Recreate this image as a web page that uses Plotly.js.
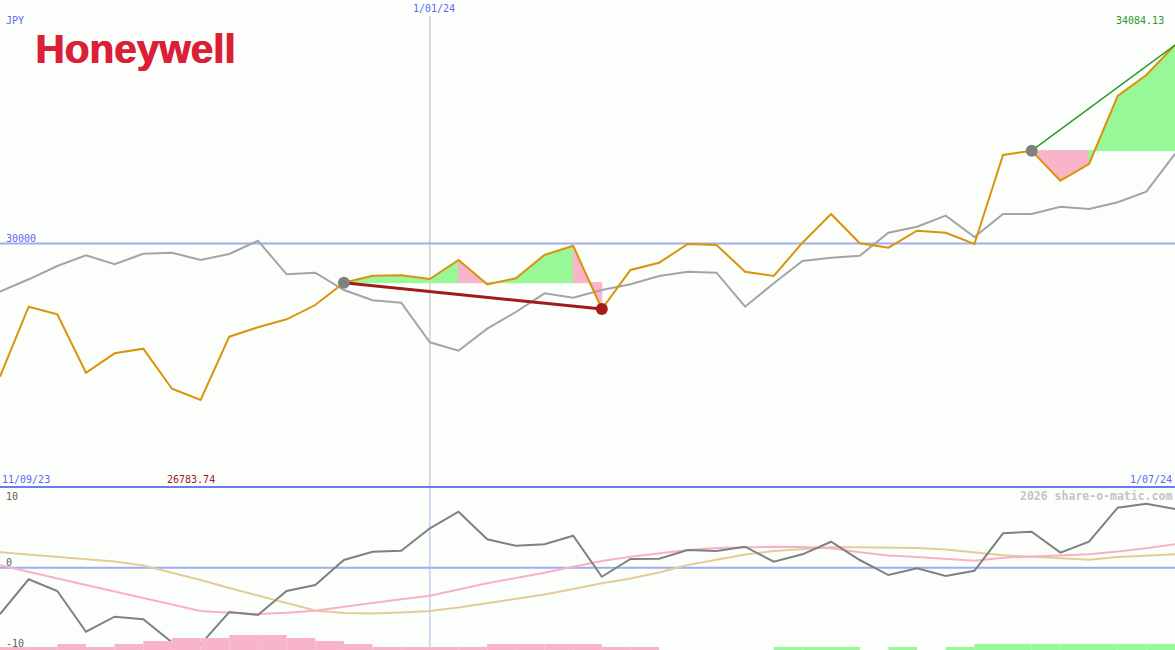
<!DOCTYPE html>
<html>
<head>
<meta charset="utf-8">
<script src="https://cdn.plot.ly/plotly-3.0.1.min.js"></script>
<style>
html,body{margin:0;padding:0;background:#fcfefc;}
#chart{width:1175px;height:650px;}
</style>
</head>
<body>
<div id="chart"></div>
<script>
// ---- data ----
const dates = ['2023-09-18','2023-09-25','2023-10-02','2023-10-09','2023-10-16','2023-10-23','2023-10-30',
  '2023-11-06','2023-11-13','2023-11-20','2023-11-27','2023-12-04','2023-12-11','2023-12-18','2023-12-25',
  '2024-01-01','2024-01-08','2024-01-15','2024-01-22','2024-01-29','2024-02-05','2024-02-12','2024-02-19',
  '2024-02-26','2024-03-04','2024-03-11','2024-03-18','2024-03-25','2024-04-01','2024-04-08','2024-04-15',
  '2024-04-22','2024-04-29','2024-05-06','2024-05-13','2024-05-20','2024-05-27','2024-06-03','2024-06-10',
  '2024-06-17','2024-06-24','2024-07-01'];
const price = [27263, 28702, 28546, 27345, 27744, 27839, 27016, 26783.74, 28086, 28279, 28443, 28737,
  29196, 29340, 29348, 29272, 29663, 29163, 29286, 29766, 29957, 28655, 29457, 29607, 29992, 29971,
  29422, 29334, 30019, 30609, 30006, 29916, 30265, 30224, 29992, 31822, 31910, 31293, 31637, 33035,
  33467, 34084.13];
const benchmark = [29011, 29266, 29539, 29759, 29574, 29792, 29813, 29663, 29786, 30060, 29369, 29402,
  29046, 28834, 28785, 27970, 27798, 28250, 28593, 28978, 28887, 29046, 29163, 29334, 29422, 29402,
  28702, 29184, 29642, 29710, 29751, 30224, 30348, 30574, 30136, 30609, 30609, 30759, 30712, 30849,
  31067, 31843];
const momentum = [-6.26, -1.57, -3.15, -8.65, -6.62, -6.97, -10.08, -10.35, -5.99, -6.39, -3.15, -2.34,
  1.04, 2.16, 2.30, 5.32, 7.57, 3.84, 2.97, 3.16, 4.32, -1.22, 1.18, 1.22, 2.39, 2.26, 2.84, 0.81,
  1.81, 3.51, 1.04, -0.99, -0.08, -1.12, -0.41, 4.65, 4.86, 2.03, 3.51, 8.11, 8.65, 7.93];
const fastAvg = [0.32, -0.54, -1.39, -2.34, -3.22, -4.09, -4.97, -5.85, -6.08, -6.26, -6.08, -5.81,
  -5.27, -4.73, -4.27, -3.78, -2.95, -2.11, -1.39, -0.68, 0.14, 0.91, 1.49, 1.92, 2.39, 2.66, 2.80,
  2.84, 2.80, 2.62, 2.08, 1.65, 1.45, 1.18, 0.95, 1.35, 1.51, 1.72, 1.81, 2.19, 2.62, 3.16];
const slowAvg = [2.08, 1.78, 1.49, 1.19, 0.84, 0.30, -0.65, -1.66, -2.74, -3.76, -4.84, -5.78, -6.12,
  -6.19, -6.05, -5.85, -5.38, -4.81, -4.23, -3.62, -2.88, -2.11, -1.46, -0.65, 0.36, 1.11, 1.78, 2.26,
  2.49, 2.76, 2.76, 2.76, 2.66, 2.46, 2.05, 1.68, 1.47, 1.31, 1.07, 1.45, 1.65, 1.81];
const signal = [-1,-1,-2,-1,-2,-3,-4,-4,-5,-5,-4,-3,-2,-1,-1,-1,-1,-2,-2,-2,-2,-1,-1,0,0,0,0,
  1,1,1,0,1,0,1,2,2,2,2,2,2,2];
const tradeStart = [12, 36];
const tradeEnd = [21, 41];
const currency = 'JPY';
const refLevel = 30000;
const startLabel = '11/09/23';
const endLabel = '1/07/24';
const yearLabel = '1/01/24';
const yearDate = '2024-01-01';
const lowerTicks = ['10', '0', '-10'];
const company = 'Honeywell';
const credit = '2026 share-o-matic.com';

// ---- styles ----
const W = 1175, H = 650;
const mainBottom = 487;
const PINK = '#f8b4c8', GREEN = '#98f898';
const px = v => v / W;
const py = v => 1 - v / H;

const traces = [];

// gain / loss fills between price and entry level
tradeStart.forEach((s, k) => {
  const e = tradeEnd[k];
  const level = price[s];
  for (let i = s; i < e; i++) {
    const col = price[i+1] >= level ? GREEN : PINK;
    traces.push({
      x: [dates[i], dates[i], dates[i+1], dates[i+1], dates[i]],
      y: [level, price[i], price[i+1], level, level],
      xaxis: 'x', yaxis: 'y', mode: 'lines', fill: 'toself',
      fillcolor: col, line: {width: 1, color: col}, hoverinfo: 'skip', showlegend: false
    });
  }
});

traces.push({x: dates, y: benchmark, xaxis: 'x', yaxis: 'y', mode: 'lines',
  line: {color: '#a4a4a4', width: 2}, hoverinfo: 'skip'});
traces.push({x: dates, y: price, xaxis: 'x', yaxis: 'y', mode: 'lines',
  line: {color: '#d9940a', width: 2}, hoverinfo: 'skip'});

tradeStart.forEach((s, k) => {
  const e = tradeEnd[k];
  const win = price[e] >= price[s];
  traces.push({x: [dates[s], dates[e]], y: [price[s], price[e]], xaxis: 'x', yaxis: 'y', mode: 'lines',
    line: {color: win ? '#2a9a2a' : '#a01c1c', width: win ? 1.5 : 3}, hoverinfo: 'skip'});
});
traces.push({x: tradeStart.map(i => dates[i]), y: tradeStart.map(i => price[i]), xaxis: 'x', yaxis: 'y',
  mode: 'markers', marker: {color: '#808080', size: 12}, hoverinfo: 'skip'});
const losses = tradeEnd.filter((e, k) => price[e] < price[tradeStart[k]]);
traces.push({x: losses.map(i => dates[i]), y: losses.map(i => price[i]), xaxis: 'x', yaxis: 'y',
  mode: 'markers', marker: {color: '#a81c1c', size: 12}, hoverinfo: 'skip'});

// lower panel
traces.push({x: dates.slice(0, signal.length), y: signal.map(Math.abs), type: 'bar', xaxis: 'x', yaxis: 'y3',
  offset: 0, width: 7 * 24 * 3600 * 1000,
  marker: {color: signal.map(v => v < 0 ? PINK : GREEN), line: {width: 0}}, hoverinfo: 'skip'});
traces.push({x: dates, y: slowAvg, xaxis: 'x', yaxis: 'y2', mode: 'lines',
  line: {color: '#e2cc98', width: 2}, hoverinfo: 'skip'});
traces.push({x: dates, y: fastAvg, xaxis: 'x', yaxis: 'y2', mode: 'lines',
  line: {color: '#f8b0c8', width: 2}, hoverinfo: 'skip'});
traces.push({x: dates, y: momentum, xaxis: 'x', yaxis: 'y2', mode: 'lines',
  line: {color: '#808080', width: 2}, hoverinfo: 'skip'});

const maxV = Math.max(...price), minV = Math.min(...price);
const mono = 'DejaVu Sans Mono';
const ann = (text, x, y, xa, color, size, extra) => Object.assign({
  text, x: px(x), y: py(y), xref: 'paper', yref: 'paper', xanchor: xa, yanchor: 'middle',
  showarrow: false, borderpad: 0, font: {family: mono, size: size || 10, color}
}, extra || {});

const layout = {
  width: W, height: H,
  margin: {l: 0, r: 0, t: 0, b: 0, pad: 0},
  paper_bgcolor: '#fcfefc', plot_bgcolor: '#fcfefc',
  showlegend: false,
  xaxis: {type: 'date', range: [dates[0], dates[dates.length-1]], domain: [0, 1], visible: false, fixedrange: true},
  yaxis: {domain: [1 - mainBottom / H, 1], range: [24995, 35009], visible: false, fixedrange: true},
  yaxis2: {domain: [0, 162 / H], range: [-11.12, 10.77], visible: false, fixedrange: true},
  yaxis3: {domain: [0, 162 / H], range: [0, 54], overlaying: 'y2', visible: false, fixedrange: true},
  shapes: [
    {type: 'line', xref: 'paper', x0: 0, x1: 1, yref: 'y', y0: refLevel, y1: refLevel,
      line: {color: '#a0aef0', width: 2}, layer: 'below'},
    {type: 'line', xref: 'paper', x0: 0, x1: 1, yref: 'y2', y0: 0, y1: 0,
      line: {color: '#a0aef0', width: 2}, layer: 'below'},
    {type: 'line', xref: 'x', x0: yearDate, x1: yearDate, yref: 'paper', y0: py(mainBottom), y1: py(16),
      line: {color: '#b8b8b8', width: 1}, layer: 'below'},
    {type: 'line', xref: 'x', x0: yearDate, x1: yearDate, yref: 'paper', y0: 0, y1: py(mainBottom + 1),
      line: {color: '#a8b4f0', width: 1}, layer: 'below'},
    {type: 'line', xref: 'paper', x0: 0, x1: 1, yref: 'paper', y0: py(487), y1: py(487),
      line: {color: '#6a7cf0', width: 2}, layer: 'above'}
  ],
  annotations: [
    ann(currency, 5, 21, 'left', '#5a6af0'),
    ann(yearLabel, 434, 9, 'center', '#5a6af0'),
    ann(maxV.toFixed(2), 1165, 21, 'right', '#2a9a2a'),
    ann(String(refLevel), 5, 238, 'left', '#5a6af0'),
    ann(startLabel, 1, 479, 'left', '#5a6af0'),
    ann(minV.toFixed(2), 191, 479, 'center', '#a01c1c'),
    ann(endLabel, 1173, 479, 'right', '#5a6af0'),
    ann(lowerTicks[0], 5, 496, 'left', '#606060'),
    ann(lowerTicks[1], 5, 562, 'left', '#606060'),
    ann(lowerTicks[2], 5, 643, 'left', '#606060'),
    ann(credit, 1173, 496, 'right', '#c4c4c4', 11.5, {font: {family: mono, size: 11.5, color: '#c4c4c4', weight: 'bold'}}),
    ann(company, 34, 49, 'left', '#da2036', 40.5, {font: {family: 'Liberation Sans, Arial, sans-serif', size: 40.5,
      color: '#da2036', weight: 'bold', shadow: '1px 0 0 #da2036'}})
  ]
};

Plotly.newPlot('chart', traces, layout, {staticPlot: true, displayModeBar: false});
</script>
</body>
</html>
